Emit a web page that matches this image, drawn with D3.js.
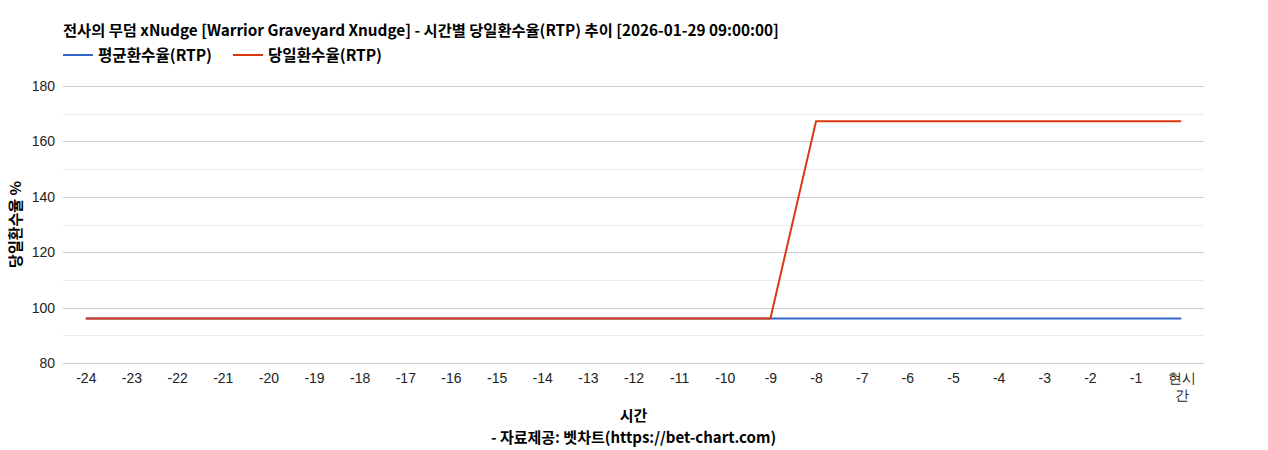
<!DOCTYPE html>
<html>
<head>
<meta charset="utf-8">
<script src="https://cdn.jsdelivr.net/npm/d3@7"></script>
<style>
  body { margin: 0; background: #fff; }
  svg { display: block; }
  .kr { font-family: "Noto Sans CJK KR", "Noto Sans", sans-serif; font-weight: bold; fill: #000; }
  .tick text { font-family: Arial, "Liberation Sans", sans-serif; font-size: 14px; fill: #222; }
</style>
</head>
<body>
<svg id="chart"></svg>
<script>
const hours = ['-24','-23','-22','-21','-20','-19','-18','-17','-16','-15','-14','-13','-12','-11','-10','-9','-8','-7','-6','-5','-4','-3','-2','-1','현시간'];
const avgRtp = [96.1,96.1,96.1,96.1,96.1,96.1,96.1,96.1,96.1,96.1,96.1,96.1,96.1,96.1,96.1,96.1,96.1,96.1,96.1,96.1,96.1,96.1,96.1,96.1,96.1];
const dayRtp = [96.1,96.1,96.1,96.1,96.1,96.1,96.1,96.1,96.1,96.1,96.1,96.1,96.1,96.1,96.1,96.1,167.3,167.3,167.3,167.3,167.3,167.3,167.3,167.3,167.3];
const yTicks = [80,100,120,140,160,180];
const yMinor = [90,110,130,150,170];
const seriesNames = ['평균환수율(RTP)', '당일환수율(RTP)'];
const seriesColors = ['#3366cc', '#dc3912'];

const W = 1268, H = 450;
const margin = { top: 86, right: 64, bottom: 87, left: 63 };
const width = W - margin.left - margin.right;
const height = H - margin.top - margin.bottom;

const svg = d3.select('#chart').attr('width', W).attr('height', H);

svg.append('text')
  .attr('class', 'kr')
  .attr('x', 63).attr('y', 36)
  .style('font-size', '15.3px')
  .text('전사의 무덤 xNudge [Warrior Graveyard Xnudge] - 시간별 당일환수율(RTP) 추이 [2026-01-29 09:00:00]');

// legend
const legendX = [63, 233];
seriesNames.forEach((name, i) => {
  const lg = svg.append('g').attr('transform', `translate(${legendX[i]}, 55)`);
  lg.append('line').attr('x1', 0).attr('x2', 30).attr('y1', 0).attr('y2', 0)
    .style('stroke', seriesColors[i]).style('stroke-width', '2px');
  lg.append('text').attr('class', 'kr').attr('x', 35).attr('y', 5.5)
    .style('font-size', '15.6px').text(name);
});

const g = svg.append('g').attr('transform', `translate(${margin.left}, ${margin.top})`);

const x = d3.scalePoint().domain(hours).range([0, width]).padding(0.5);
const y = d3.scaleLinear().domain([80, 180]).range([height, 0]);

// minor gridlines
g.append('g').selectAll('line').data(yMinor).join('line')
  .attr('x1', 0).attr('x2', width)
  .attr('y1', d => Math.round(y(d)) + 0.5).attr('y2', d => Math.round(y(d)) + 0.5)
  .style('stroke', '#ebebeb').style('stroke-width', '1px');

// major gridlines
g.append('g').selectAll('line').data(yTicks).join('line')
  .attr('x1', 0).attr('x2', width)
  .attr('y1', d => Math.round(y(d)) + 0.5).attr('y2', d => Math.round(y(d)) + 0.5)
  .style('stroke', '#cccccc').style('stroke-width', '1px');

const yAxis = g.append('g')
  .call(d3.axisLeft(y).tickValues(yTicks).tickSize(0).tickPadding(8));
yAxis.select('.domain').remove();

const xAxis = g.append('g')
  .attr('transform', `translate(0, ${height})`)
  .call(d3.axisBottom(x).tickSize(0).tickPadding(10));
xAxis.select('.domain').remove();
// wrap the last label like the original
xAxis.selectAll('.tick text')
  .filter(d => d === '현시간')
  .each(function () {
    const t = d3.select(this);
    t.text(null);
    t.append('tspan').attr('x', 0).attr('dy', '0.71em').text('현시');
    t.append('tspan').attr('x', 0).attr('dy', '1.25em').text('간');
    t.attr('dy', null);
  });

const line = d3.line()
  .x((d, i) => x(hours[i]))
  .y(d => y(d));

const createPath = (data, color) => {
  g.append('path')
    .datum(data)
    .attr('class', 'line')
    .attr('d', line)
    .style('stroke', color)
    .style('stroke-width', '2px')
    .style('fill', 'none');
};
createPath(avgRtp, seriesColors[0]);
createPath(dayRtp, seriesColors[1]);

// axis titles
svg.append('text')
  .attr('class', 'kr')
  .attr('text-anchor', 'middle')
  .attr('transform', `translate(21, ${margin.top + height / 2}) rotate(-90)`)
  .style('font-size', '15px')
  .text('당일환수율 %');

svg.append('text')
  .attr('class', 'kr')
  .attr('text-anchor', 'middle')
  .attr('x', margin.left + width / 2).attr('y', 421)
  .style('font-size', '15px')
  .text('시간');

svg.append('text')
  .attr('class', 'kr')
  .attr('text-anchor', 'middle')
  .attr('x', margin.left + width / 2).attr('y', 443)
  .style('font-size', '15px')
  .text('- 자료제공: 벳차트(https://bet-chart.com)');
</script>
</body>
</html>
